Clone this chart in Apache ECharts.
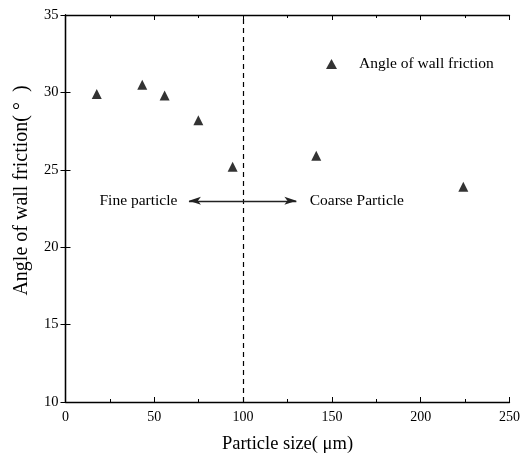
<!DOCTYPE html>
<html><head><meta charset="utf-8">
<script src="https://cdn.jsdelivr.net/npm/echarts@6/dist/echarts.min.js"></script>
<style>html,body{margin:0;padding:0;background:#fff}#c{width:523px;height:459px}</style>
</head><body><div id="c"></div>
<script>
const particleSize = [17.6, 43.2, 55.8, 74.8, 94.1, 141.2, 224];
const wallFriction = [29.9, 30.5, 29.8, 28.2, 25.2, 25.9, 23.9];
const xTicks = [0, 50, 100, 150, 200, 250];
const yTicks = [10, 15, 20, 25, 30, 35];
const seriesName = 'Angle of wall friction';
const fineLabel = 'Fine particle';
const coarseLabel = 'Coarse Particle';
const dividerX = 100;
const arrowY = 23;
const arrowFrom = 69.5;
const arrowTo = 130;

const font = '"Liberation Serif", "Times New Roman", serif';
const chart = echarts.init(document.getElementById('c'));
const axisCommon = {
  type: 'value',
  axisLine: {show: true, lineStyle: {color: '#000', width: 1.3}},
  splitLine: {show: false},
  axisLabel: {color: '#000', fontFamily: font, fontSize: 14},
};
const lbl = {color: '#000', fontFamily: font, fontSize: 15.5, textBorderWidth: 0, opacity: 1};
chart.setOption({
  animation: false,
  backgroundColor: '#fff',
  grid: {left: 65.5, right: 10.5, top: 15, bottom: 55.5},
  legend: {
    left: 321, top: 51, itemWidth: 11, itemHeight: 10,
    icon: 'triangle',
    data: [seriesName],
    textStyle: {color: '#000', fontFamily: font, fontSize: 15.5, padding: [4, 0, 0, 17]}
  },
  xAxis: [
    Object.assign({}, axisCommon, {
      min: xTicks[0], max: xTicks[xTicks.length - 1], interval: 50,
      position: 'bottom',
      axisTick: {show: true, inside: true, length: 5, lineStyle: {color: '#000'}},
      minorTick: {show: true, splitNumber: 2, length: 3, lineStyle: {color: '#000'}},
      axisLabel: {color: '#000', fontFamily: font, fontSize: 14, margin: 8},
      name: 'Particle size( μm)', nameLocation: 'middle', nameGap: 33,
      nameTextStyle: {color: '#000', fontFamily: font, fontSize: 18.5}
    }),
    Object.assign({}, axisCommon, {
      min: xTicks[0], max: xTicks[xTicks.length - 1], interval: 50,
      position: 'top',
      axisTick: {show: true, inside: true, length: 5, lineStyle: {color: '#000'}},
      minorTick: {show: true, splitNumber: 2, length: 3, lineStyle: {color: '#000'}},
      axisLabel: {show: false}
    })
  ],
  yAxis: [
    Object.assign({}, axisCommon, {
      min: yTicks[0], max: yTicks[yTicks.length - 1], interval: 5,
      position: 'left',
      axisTick: {show: true, inside: true, length: 5, lineStyle: {color: '#000'}},
      axisLabel: {color: '#000', fontFamily: font, fontSize: 14.5, margin: 7},
      name: 'Angle of wall friction( °  )', nameLocation: 'middle', nameGap: 34,
      nameTextStyle: {color: '#000', fontFamily: font, fontSize: 20, padding: [0, 0, 0, 36]}
    }),
    Object.assign({}, axisCommon, {
      min: yTicks[0], max: yTicks[yTicks.length - 1], interval: 5,
      position: 'right',
      axisTick: {show: true, inside: true, length: 5, lineStyle: {color: '#000'}},
      axisLabel: {show: false}
    })
  ],
  series: [
    {
      name: seriesName,
      type: 'scatter',
      symbol: 'triangle',
      symbolSize: 10,
      itemStyle: {color: '#000'},
      data: particleSize.map((x, i) => [x, wallFriction[i]]),
      markLine: {
        silent: true,
        animation: false,
        label: {show: false},
        data: [
          [{coord: [dividerX, yTicks[0]], symbol: 'none', lineStyle: {type: [5, 4], color: '#000', width: 1.2}},
           {coord: [dividerX, yTicks[yTicks.length - 1]], symbol: 'none'}],
          [{coord: [arrowFrom, arrowY], symbol: 'arrow', symbolSize: [6, 12], lineStyle: {type: 'solid', color: '#222', width: 1.3}},
           {coord: [arrowTo, arrowY], symbol: 'arrow', symbolSize: [6, 12]}]
        ]
      }
    },
    {
      name: 'labels',
      type: 'scatter',
      symbolSize: 0,
      silent: true,
      itemStyle: {color: '#000'},
      data: [
        {value: [arrowFrom - 6.5, arrowY], label: Object.assign({show: true, position: 'left', distance: 0, formatter: fineLabel}, lbl)},
        {value: [arrowTo + 7.5, arrowY], label: Object.assign({show: true, position: 'right', distance: 0, formatter: coarseLabel}, lbl)}
      ]
    }
  ]
});
</script></body></html>
